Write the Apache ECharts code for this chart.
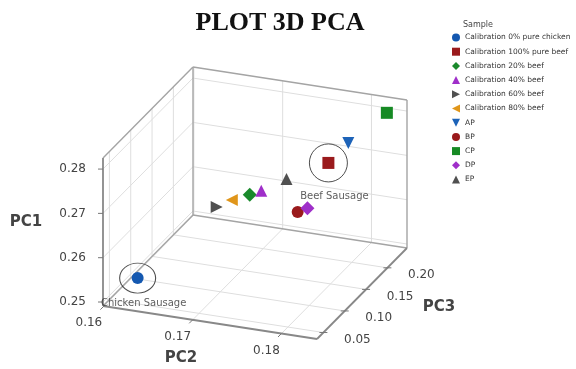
<!DOCTYPE html>
<html><head><meta charset="utf-8">
<script src="https://cdn.jsdelivr.net/npm/echarts@6/dist/echarts.min.js"></script>
<style>html,body{margin:0;padding:0;background:#fff}#c{width:576px;height:369px}</style>
</head><body><div id="c"></div>
<script>
// ---- data ----
const samples = ['Calibration 0% pure chicken', 'Calibration 100% pure beef', 'Calibration 20% beef',
  'Calibration 40% beef', 'Calibration 60% beef', 'Calibration 80% beef', 'AP', 'BP', 'CP', 'DP', 'EP'];
const pc1 = [0.2538, 0.2797, 0.2664, 0.2677, 0.2614, 0.2635, 0.2759, 0.2698, 0.2807, 0.2710, 0.2679];
const pc2 = [0.1626, 0.1812, 0.1709, 0.1722, 0.1667, 0.1684, 0.1796, 0.1787, 0.1825, 0.1798, 0.1736];
const pc3 = [0.060, 0.120, 0.150, 0.150, 0.160, 0.160, 0.200, 0.100, 0.230, 0.100, 0.180];
const pc1Ticks = [0.25, 0.26, 0.27, 0.28];
const pc2Ticks = [0.16, 0.17, 0.18];
const pc3Ticks = [0.05, 0.10, 0.15, 0.20];
const pc1Range = [0.2491, 0.2825];
const pc2Range = [0.1599, 0.1840];
const pc3Range = [0.035, 0.246];
const annotIndex = [0, 1];
const annotText = ['Chicken Sausage', 'Beef Sausage'];

// ---- styles ----
const TRI_R = 'path://M0,0L10,5L0,10Z', TRI_L = 'path://M10,0L0,5L10,10Z', TRI_D = 'path://M0,0L10,0L5,10Z';
const markStyles = [
  {color:'#1458b0', symbol:'circle', size:12, rot:0, icon:'circle'},
  {color:'#9a1a1c', symbol:'rect', size:12, rot:0, icon:'rect'},
  {color:'#1a8a2c', symbol:'diamond', size:14, rot:0, icon:'diamond'},
  {color:'#9f2fc9', symbol:'triangle', size:12, rot:0, icon:'triangle'},
  {color:'#505050', symbol:'triangle', size:12, rot:-90, icon:TRI_R},
  {color:'#e0961a', symbol:'triangle', size:12, rot:90, icon:TRI_L},
  {color:'#1d63b8', symbol:'triangle', size:12, rot:180, icon:TRI_D},
  {color:'#9a1a1c', symbol:'circle', size:12, rot:0, icon:'circle'},
  {color:'#168a24', symbol:'rect', size:12, rot:0, icon:'rect'},
  {color:'#9f2fc9', symbol:'diamond', size:14, rot:0, icon:'diamond'},
  {color:'#505050', symbol:'triangle', size:12, rot:0, icon:'triangle'}
];
const annotStyle = [{size:[36,30], offset:[6,25]}, {size:[38,38], offset:[6,33]}];
const box = {ox:103, oy:306, u1:[0,-148], u2:[214,33], u3:[90,-91]};
const FONT = 'DejaVu Sans';

function proj(a, b, c) {
  const f1 = (a - pc1Range[0]) / (pc1Range[1] - pc1Range[0]);
  const f2 = (b - pc2Range[0]) / (pc2Range[1] - pc2Range[0]);
  const f3 = (c - pc3Range[0]) / (pc3Range[1] - pc3Range[0]);
  return [box.ox + f1*box.u1[0] + f2*box.u2[0] + f3*box.u3[0],
          box.oy + f1*box.u1[1] + f2*box.u2[1] + f3*box.u3[1]];
}
function seg(p, q) { const A = proj(p[0],p[1],p[2]), B = proj(q[0],q[1],q[2]); return [A[0],A[1],B[0],B[1]]; }

const [a0,a1] = pc1Range, [b0,b1] = pc2Range, [c0,c1] = pc3Range;
const gridSegs = [], edgeSegs = [], axisSegs = [], tickSegs = [], tickLabels = [];
pc1Ticks.forEach(t => { gridSegs.push(seg([t,b0,c0],[t,b0,c1])); gridSegs.push(seg([t,b0,c1],[t,b1,c1])); });
pc3Ticks.forEach(t => { gridSegs.push(seg([a0,b0,t],[a1,b0,t])); gridSegs.push(seg([a0,b0,t],[a0,b1,t])); });
pc2Ticks.forEach(t => { gridSegs.push(seg([a0,t,c1],[a1,t,c1])); gridSegs.push(seg([a0,t,c0],[a0,t,c1])); });
edgeSegs.push(seg([a1,b0,c0],[a1,b0,c1]), seg([a0,b0,c1],[a1,b0,c1]), seg([a0,b0,c0],[a0,b0,c1]),
  seg([a1,b0,c1],[a1,b1,c1]), seg([a0,b1,c1],[a1,b1,c1]), seg([a0,b0,c1],[a0,b1,c1]));
axisSegs.push(seg([a0,b0,c0],[a1,b0,c0]), seg([a0,b0,c0],[a0,b1,c0]), seg([a0,b1,c0],[a0,b1,c1]));
pc1Ticks.forEach(t => { const p = proj(t,b0,c0); tickSegs.push([p[0]-5,p[1],p[0],p[1]]);
  tickLabels.push([p[0]-17, p[1], t.toFixed(2), 'right']); });
pc2Ticks.forEach(t => { const p = proj(a0,t,c0); tickSegs.push([p[0],p[1],p[0]-3.5,p[1]+3.5]);
  tickLabels.push([p[0]-15, p[1]+17, t.toFixed(2), 'center']); });
pc3Ticks.forEach(t => { const p = proj(a0,b1,t); tickSegs.push([p[0]-4,p[1],p[0]+4,p[1]]);
  tickLabels.push([p[0]+34, p[1]+7, t.toFixed(2), 'center']); });

function lineSeries(data, color, width, z) {
  return { type:'custom', coordinateSystem:'cartesian2d', silent:true, z:z, data:data,
    encode:{x:[0,2], y:[1,3]},
    renderItem:(params, api) => {
      const p = api.coord([api.value(0), api.value(1)]), q = api.coord([api.value(2), api.value(3)]);
      return {type:'line', shape:{x1:p[0],y1:p[1],x2:q[0],y2:q[1]}, style:{stroke:color, lineWidth:width}};
    }};
}

const series = [
  lineSeries(gridSegs, '#dedede', 1, 1),
  lineSeries(edgeSegs, '#a4a4a4', 1.4, 2),
  lineSeries(axisSegs, '#888', 1.8, 3),
  lineSeries(tickSegs, '#777', 1, 3),
  { type:'custom', coordinateSystem:'cartesian2d', silent:true, z:3,
    data: tickLabels, encode:{x:0, y:1},
    renderItem:(params, api) => {
      const p = api.coord([api.value(0), api.value(1)]);
      const d = tickLabels[params.dataIndex];
      return {type:'text', x:p[0], y:p[1], style:{text:d[2], fill:'#444', fontSize:12, fontFamily:FONT,
        align:d[3], verticalAlign:'middle'}};
    }}
];
samples.forEach((name, i) => {
  const s = markStyles[i];
  series.push({ type:'scatter', name:name, z:5, symbol:s.symbol, symbolSize:s.size, symbolRotate:s.rot,
    itemStyle:{color:s.color, opacity:1}, data:[proj(pc1[i], pc2[i], pc3[i])] });
});
series.push({ type:'scatter', name:'annotations', z:6, silent:true, symbol:'circle',
  data: annotIndex.map((idx, k) => ({ value: proj(pc1[idx], pc2[idx], pc3[idx]), symbolSize: annotStyle[k].size,
    label:{show:true, formatter: annotText[k], position:'inside', offset: annotStyle[k].offset,
      color:'#333', fontSize:10, fontFamily:FONT} })),
  itemStyle:{color:'rgba(0,0,0,0)', borderColor:'#222', borderWidth:1} });

const chart = echarts.init(document.getElementById('c'));
chart.setOption({
  animation:false,
  grid:{left:0, right:0, top:0, bottom:0},
  xAxis:{type:'value', min:0, max:576, show:false},
  yAxis:{type:'value', min:0, max:369, inverse:true, show:false},
  legend:{ data:samples.map((n, i) => ({name:n, icon:markStyles[i].icon})), orient:'vertical', left:447, top:28.5,
    itemWidth:8, itemHeight:8, itemGap:6.2, symbolRotate:0,
    textStyle:{fontFamily:FONT, fontSize:7.5, color:'#333', lineHeight:8} },
  graphic:[
    {type:'text', x:280, y:23, style:{text:'PLOT 3D PCA', fontFamily:'Liberation Serif', fontWeight:'bold',
      fontSize:26, fill:'#111', align:'center', verticalAlign:'middle'}},
    {type:'text', x:463, y:25, style:{text:'Sample', fontFamily:FONT, fontSize:8, fill:'#444', align:'left', verticalAlign:'middle'}},
    {type:'text', x:26, y:222, style:{text:'PC1', fontFamily:FONT, fontWeight:'bold', fontSize:15, fill:'#444', align:'center', verticalAlign:'middle'}},
    {type:'text', x:181, y:358, style:{text:'PC2', fontFamily:FONT, fontWeight:'bold', fontSize:15, fill:'#444', align:'center', verticalAlign:'middle'}},
    {type:'text', x:439, y:307, style:{text:'PC3', fontFamily:FONT, fontWeight:'bold', fontSize:15, fill:'#444', align:'center', verticalAlign:'middle'}}
  ],
  series: series
});
</script></body></html>
